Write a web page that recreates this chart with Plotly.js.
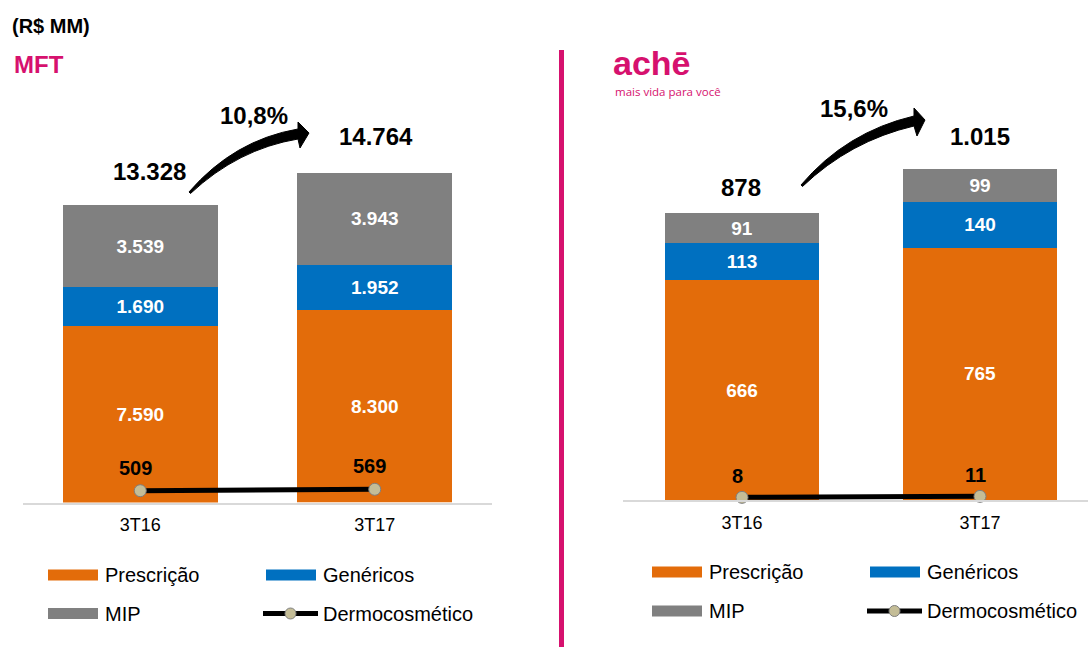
<!DOCTYPE html>
<html>
<head>
<meta charset="utf-8">
<script src="https://cdn.plot.ly/plotly-3.0.1.min.js"></script>
<style>
  html, body { margin: 0; padding: 0; background: #fff; }
  #chart { width: 1088px; height: 647px; }
</style>
</head>
<body>
<div id="chart"></div>
<script>
// ---------- DATA ----------
const categories = ['3T16', '3T17'];
const seriesNames = ['Prescrição', 'Genéricos', 'MIP', 'Dermocosmético'];

const mftPrescricao = [7590, 8300];
const mftGenericos = [1690, 1952];
const mftMIP = [3539, 3943];
const mftDermo = [509, 569];
const mftTotal = [13328, 14764];
const mftGrowth = '10,8%';

const achePrescricao = [666, 765];
const acheGenericos = [113, 140];
const acheMIP = [91, 99];
const acheDermo = [8, 11];
const acheTotal = [878, 1015];
const acheGrowth = '15,6%';

const unitLabel = '(R$ MM)';
const leftTitle = 'MFT';
const logoText = 'achē';
const logoSub = 'mais vida para você';

// ---------- STYLE ----------
const W = 1088, H = 647;
const FONT = 'Liberation Sans, Arial, sans-serif';
const C_ORANGE = '#E36C0A';
const C_BLUE = '#0070C0';
const C_GRAY = '#808080';
const C_MAG = '#D6116E';
const px = x => x / W;
const py = y => 1 - y / H;
const fmt = n => String(n).replace(/\B(?=(\d{3})+(?!\d))/g, '.');
const colors = [C_ORANGE, C_BLUE, C_GRAY];

function barTraces(vals, xa, ya, width) {
  return vals.map((v, i) => ({
    type: 'bar', x: categories, y: v, name: seriesNames[i],
    xaxis: xa, yaxis: ya, width: width,
    marker: { color: colors[i], line: { width: 0 } },
    texttemplate: '%{y:,.0f}', textposition: 'inside', insidetextanchor: 'middle',
    constraintext: 'none', textangle: 0,
    textfont: { family: FONT, size: 19, color: '#FFFFFF', weight: 'bold' },
    hoverinfo: 'skip', showlegend: false
  }));
}
function dermoTrace(vals, xa, ya) {
  return {
    type: 'scatter', mode: 'lines+markers', x: categories, y: vals, name: seriesNames[3],
    xaxis: xa, yaxis: ya, cliponaxis: false,
    line: { color: '#000000', width: 5 },
    marker: { size: 12, color: '#C4BD97', line: { color: '#7F7F7F', width: 1 } },
    hoverinfo: 'skip', showlegend: false
  };
}

const traces = [
  ...barTraces([mftPrescricao, mftGenericos, mftMIP], 'x', 'y', 0.66),
  dermoTrace(mftDermo, 'x', 'y'),
  ...barTraces([achePrescricao, acheGenericos, acheMIP], 'x2', 'y2', 0.65),
  dermoTrace(acheDermo, 'x2', 'y2')
];

const annotations = [];
const shapes = [];
function txt(text, x, y, size, opts) {
  annotations.push(Object.assign({
    xref: 'paper', yref: 'paper', x: px(x), y: py(y), text: text, showarrow: false,
    xanchor: 'center', yanchor: 'middle',
    font: { family: FONT, size: size, color: '#000000' }
  }, opts || {}));
}

// Stack-total labels and dermocosmético labels (data coordinates)
function panelLabels(xa, ya, stacks, totals, dermo, shifts, dshift) {
  categories.forEach((c, i) => {
    const top = stacks.reduce((s, arr) => s + arr[i], 0);
    annotations.push({
      xref: xa, yref: ya, x: c, y: top, text: fmt(totals[i]), showarrow: false,
      xanchor: 'center', yanchor: 'middle', xshift: shifts[i][0], yshift: shifts[i][1],
      font: { family: FONT, size: 24, color: '#000000', weight: 'bold' }
    });
    annotations.push({
      xref: xa, yref: ya, x: c, y: dermo[i], text: fmt(dermo[i]), showarrow: false,
      xanchor: 'center', yanchor: 'middle', xshift: -5, yshift: dshift,
      font: { family: FONT, size: 20, color: '#000000', weight: 'bold' }
    });
  });
}
panelLabels('x', 'y', [mftPrescricao, mftGenericos, mftMIP], mftTotal, mftDermo, [[9, 33], [1, 37]], 23);
panelLabels('x2', 'y2', [achePrescricao, acheGenericos, acheMIP], acheTotal, acheDermo, [[-1, 26], [0, 32]], 21);

// Headers
txt(unitLabel, 10, 26, 20, { xanchor: 'left', font: { family: FONT, size: 20, color: '#000', weight: 'bold' } });
txt(leftTitle, 12, 64, 24, { xanchor: 'left', font: { family: FONT, size: 24, color: C_MAG, weight: 'bold' } });
txt(logoText, 612, 63, 34, { xanchor: 'left', borderpad: 0, font: { family: FONT, size: 34, color: C_MAG, weight: 'bold' } });
txt(logoSub, 614, 92, 11.5, { xanchor: 'left', borderpad: 0, font: { family: 'Open Sans, sans-serif', size: 11.5, color: C_MAG } });

// Growth labels
txt(mftGrowth, 254, 116, 24, { font: { family: FONT, size: 24, color: '#000', weight: 'bold' } });
txt(acheGrowth, 854, 108, 24, { font: { family: FONT, size: 24, color: '#000', weight: 'bold' } });

// Curved arrows
function pathPx(pts) {
  return pts.map(p => {
    if (typeof p === 'string') return p;
    return px(p[0]).toFixed(5) + ',' + py(p[1]).toFixed(5);
  }).join(' ');
}
function arrow(tail, ctrl, headBase, tip, headTop, headBot, thick) {
  const d = pathPx([
    'M', tail, 'Q', ctrl, [headBase[0], headBase[1] - thick / 2],
    'L', headTop, 'L', tip, 'L', headBot,
    'L', [headBase[0], headBase[1] + thick / 2],
    'Q', [ctrl[0] + 4, ctrl[1] + 9], [tail[0] + 1.5, tail[1] + 1.5], 'Z'
  ]);
  shapes.push({ type: 'path', xref: 'paper', yref: 'paper', path: d,
    fillcolor: '#000000', line: { color: '#000000', width: 1 } });
}
arrow([189, 192], [234, 140], [298, 134], [309, 133], [298, 122], [300, 148], 10);
arrow([801, 185], [846, 132], [914, 121], [925, 120], [914, 108], [917, 136], 10);

// Divider
shapes.push({ type: 'line', xref: 'paper', yref: 'paper', x0: px(561.5), x1: px(561.5), y0: py(50), y1: 0,
  line: { color: C_MAG, width: 5 } });

// Custom legends
function legend(ox, oy, dx, dy) {
  const items = [
    { n: 0, cx: ox, cy: oy },
    { n: 1, cx: ox + dx, cy: oy },
    { n: 2, cx: ox, cy: oy + dy },
    { n: 3, cx: ox + dx - 3, cy: oy + dy }
  ];
  items.forEach(it => {
    if (it.n < 3) {
      shapes.push({ type: 'rect', xref: 'paper', yref: 'paper',
        x0: px(it.cx), x1: px(it.cx + 50), y0: py(it.cy - 5.5), y1: py(it.cy + 5.5),
        fillcolor: colors[it.n], line: { width: 0 } });
      txt(seriesNames[it.n], it.cx + 55, it.cy, 20, { xanchor: 'left', font: { family: FONT, size: 20, color: '#000' } });
    } else {
      shapes.push({ type: 'line', xref: 'paper', yref: 'paper',
        x0: px(it.cx), x1: px(it.cx + 55), y0: py(it.cy), y1: py(it.cy),
        line: { color: '#000', width: 5 } });
      shapes.push({ type: 'circle', xref: 'paper', yref: 'paper',
        x0: px(it.cx + 22), x1: px(it.cx + 33), y0: py(it.cy - 5.5), y1: py(it.cy + 5.5),
        fillcolor: '#C4BD97', line: { color: '#7F7F7F', width: 1 } });
      txt(seriesNames[it.n], it.cx + 58, it.cy, 20, { xanchor: 'left', font: { family: FONT, size: 20, color: '#000' } });
    }
  });
}
legend(48, 575, 218, 38.5);
legend(652, 572, 218, 39);

const yBase1 = 502.5, yTop = 60;
const scale1 = 0.02321, scale2 = 0.3298, yBase2 = 500;

const axisX = {
  type: 'category', showline: true, linecolor: '#D9D9D9', linewidth: 2, ticks: '',
  showgrid: false, zeroline: false, fixedrange: true, ticklabelstandoff: 5,
  tickfont: { family: FONT, size: 18, color: '#000' }
};
const axisY = { showgrid: false, zeroline: false, showline: false, showticklabels: false, ticks: '', fixedrange: true };

const layout = {
  width: W, height: H,
  margin: { l: 0, r: 0, t: 0, b: 0, pad: 0 },
  paper_bgcolor: '#FFFFFF', plot_bgcolor: 'rgba(0,0,0,0)',
  barmode: 'stack', separators: ',.', showlegend: false,
  xaxis: Object.assign({}, axisX, { domain: [px(23), px(492)], range: [-0.5, 1.5], anchor: 'y' }),
  yaxis: Object.assign({}, axisY, { domain: [py(yBase1), py(yTop)], range: [0, (yBase1 - yTop) / scale1], anchor: 'x' }),
  xaxis2: Object.assign({}, axisX, { domain: [px(623), 1], range: [-0.5, (W - 623) / 238 - 0.5], anchor: 'y2' }),
  yaxis2: Object.assign({}, axisY, { domain: [py(yBase2), py(yTop)], range: [0, (yBase2 - yTop) / scale2], anchor: 'x2' }),
  annotations: annotations,
  shapes: shapes
};

Plotly.newPlot('chart', traces, layout, { staticPlot: true, displayModeBar: false });
</script>
</body>
</html>
